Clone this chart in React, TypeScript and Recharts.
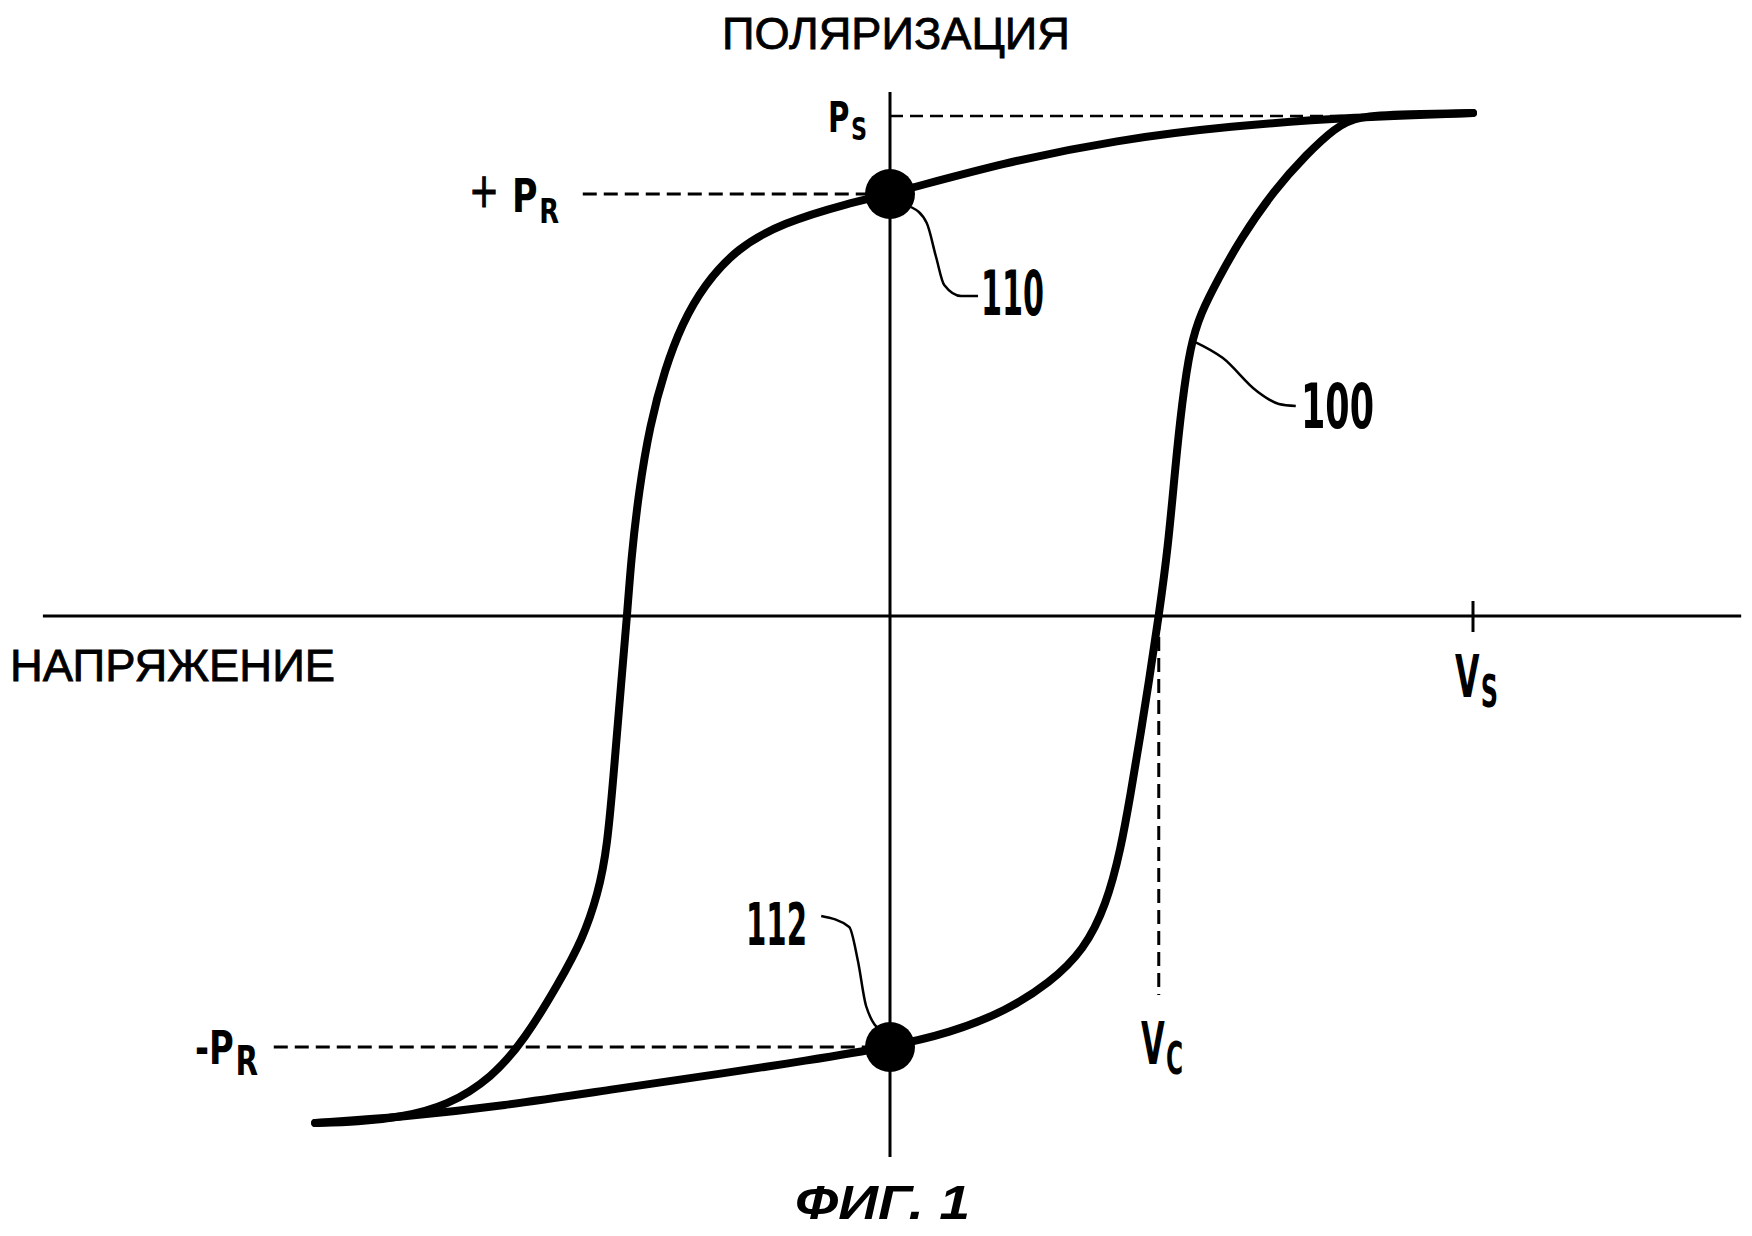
import React from 'react';
import { LineChart, Line, XAxis, YAxis, ReferenceLine, ReferenceDot } from 'recharts';

// ---- hysteresis loop 100 (V in units where Vs = 10, P in units where Ps = 10) ----
const upperV = [-9.86, -9.13, -8.37, -7.6, -6.83, -6.26, -5.68, -5.27, -5.01, -4.85, -4.72, -4.61, -4.51, -4.44, -4.31, -4.12, -3.86, -3.57, -3.19, -2.62, -1.85, -0.7, 0, 1.99, 3.89, 5.81, 8.01, 10];
const upperP = [-10.14, -10.12, -10.02, -9.8, -9.24, -8.46, -7.34, -6.46, -5.56, -4.66, -2.88, -1.32, 0, 1.14, 2.48, 3.82, 4.94, 5.84, 6.62, 7.36, 7.86, 8.26, 8.44, 9.08, 9.52, 9.8, 9.98, 10.06];

const lowerV = [-9.86, -8.37, -6.64, -4.72, -2.81, -1.48, 0, 1.03, 1.99, 2.74, 3.33, 3.71, 3.96, 4.13, 4.29, 4.44, 4.61, 4.77, 4.89, 5.01, 5.15, 5.33, 5.63, 6.0, 6.59, 7.15, 7.63, 8.01, 8.88, 10];
const lowerP = [-10.14, -10.02, -9.8, -9.46, -9.14, -8.9, -8.62, -8.34, -7.9, -7.34, -6.68, -5.78, -4.66, -3.54, -2.42, -1.32, 0, 1.38, 2.94, 4.28, 5.4, 6.06, 6.74, 7.52, 8.52, 9.24, 9.76, 10.0, 10.04, 10.06];

// ---- characteristic values ----
const Ps = 10;
const PrPlus = 8.44;
const PrMinus = -8.62;
const Vs = 10;
const Vc = 4.61;

// ---- leader lines to reference numerals ----
const leader110V = [0.36, 0.63, 0.79, 0.93, 1.22, 1.51];
const leader110P = [8.18, 7.86, 7.18, 6.62, 6.4, 6.4];
const leader100V = [5.2, 5.71, 6.29, 6.67, 6.96];
const leader100P = [5.5, 5.16, 4.5, 4.24, 4.2];
const leader112V = [-1.18, -0.7, -0.55, -0.41, -0.12];
const leader112P = [-6.0, -6.22, -6.9, -7.8, -8.34];

const zip = (vs: number[], ps: number[]) => vs.map((v, i) => ({ v, p: ps[i] }));

const upperData = zip(upperV, upperP);
const lowerData = zip(lowerV, lowerP);
const l110 = zip(leader110V, leader110P);
const l100 = zip(leader100V, leader100P);
const l112 = zip(leader112V, leader112P);

const SANS = "'Liberation Sans', Arial, Helvetica, sans-serif";
const COND = "'Liberation Sans Narrow', 'DejaVu Sans Condensed', 'Liberation Sans', Arial, sans-serif";

type Ann = {
  text: string;
  sub?: string;
  subSize?: number;
  subDy?: number;
  v: number;
  p: number;
  size: number;
  width: number;
  weight?: number | string;
  italic?: boolean;
  family?: string;
  stroke?: number;
};

const annotations: Ann[] = [
  { text: 'ПОЛЯРИЗАЦИЯ', v: -2.882, p: 11.34, size: 45, width: 348, family: SANS, stroke: 0.8 },
  { text: 'НАПРЯЖЕНИЕ', v: -15.094, p: -1.3, size: 45, width: 325, family: SANS, stroke: 0.8 },
  { text: 'ФИГ. 1', v: -1.63, p: -12.06, size: 48, width: 175, family: SANS, weight: 700, italic: true },
  { text: 'P', sub: 'S', subSize: 32, subDy: 8, v: -1.063, p: 9.68, size: 42, width: 39, family: COND, weight: 700 },
  { text: '+', v: -7.221, p: 8.18, size: 48, width: 30, family: COND, weight: 400, stroke: 1 },
  { text: 'P', sub: 'R', subSize: 34, subDy: 11, v: -6.484, p: 8.08, size: 46, width: 47, family: COND, weight: 700 },
  { text: '-P', sub: 'R', subSize: 40, subDy: 11, v: -11.921, p: -8.96, size: 46, width: 63, family: COND, weight: 700 },
  { text: 'V', sub: 'S', subSize: 44, subDy: 10, v: 9.691, p: -1.62, size: 58, width: 43, family: COND, weight: 700 },
  { text: 'V', sub: 'C', subSize: 44, subDy: 10, v: 4.305, p: -8.96, size: 58, width: 42, family: COND, weight: 700 },
  { text: '110', v: 1.561, p: 6.02, size: 62, width: 63, family: COND, weight: 700 },
  { text: '100', v: 7.05, p: 3.76, size: 62, width: 73, family: COND, weight: 700 },
  { text: '112', v: -2.47, p: -6.58, size: 58, width: 61, family: COND, weight: 700 },
];

const W = 1752;
const H = 1236;
const X_DOMAIN: [number, number] = [-15.2659, 14.7856];
const Y_DOMAIN: [number, number] = [-12.4, 12.32];

const AXIS_LEFT = -14.53;
const AXIS_RIGHT = 14.6;
const AXIS_TOP = 10.48;
const AXIS_BOTTOM = -10.82;

const makeTextShape = (a: Ann) => (props: any) => (
  <text
    x={props.cx}
    y={props.cy}
    fontSize={a.size}
    fontFamily={a.family}
    fontWeight={a.weight ?? 400}
    fontStyle={a.italic ? 'italic' : 'normal'}
    textLength={a.width}
    lengthAdjust="spacingAndGlyphs"
    fill="#000"
    stroke={a.stroke ? '#000' : 'none'}
    strokeWidth={a.stroke ?? 0}
  >
    {a.text}
    {a.sub ? (
      <tspan fontSize={a.subSize} dy={a.subDy} dx={2}>
        {a.sub}
      </tspan>
    ) : null}
  </text>
);

export default function App() {
  return (
    <div style={{ position: 'absolute', left: 0, top: 0, width: W, height: H, background: '#fff' }}>
      <LineChart width={W} height={H} margin={{ top: 0, right: 0, bottom: 0, left: 0 }}>
        <XAxis type="number" dataKey="v" domain={X_DOMAIN} allowDataOverflow hide />
        <YAxis type="number" dataKey="p" domain={Y_DOMAIN} allowDataOverflow hide width={0} />

        {/* axes */}
        <ReferenceLine segment={[{ x: AXIS_LEFT, y: 0 }, { x: AXIS_RIGHT, y: 0 }]} stroke="#000" strokeWidth={3} ifOverflow="visible" />
        <ReferenceLine segment={[{ x: 0, y: AXIS_TOP }, { x: 0, y: AXIS_BOTTOM }]} stroke="#000" strokeWidth={3} ifOverflow="visible" />
        <ReferenceLine segment={[{ x: Vs, y: 0.3 }, { x: Vs, y: -0.32 }]} stroke="#000" strokeWidth={3} ifOverflow="visible" />

        {/* dashed reference lines */}
        <ReferenceLine segment={[{ x: 0, y: Ps }, { x: 8.01, y: Ps }]} stroke="#000" strokeWidth={2.5} strokeDasharray="13 7" ifOverflow="visible" />
        <ReferenceLine segment={[{ x: -5.27, y: PrPlus }, { x: 0, y: PrPlus }]} stroke="#000" strokeWidth={3} strokeDasharray="14 7" ifOverflow="visible" />
        <ReferenceLine segment={[{ x: -10.57, y: PrMinus }, { x: 0, y: PrMinus }]} stroke="#000" strokeWidth={3} strokeDasharray="14 7" ifOverflow="visible" />
        <ReferenceLine segment={[{ x: Vc, y: 0 }, { x: Vc, y: -7.58 }]} stroke="#000" strokeWidth={3} strokeDasharray="14 7" ifOverflow="visible" />

        {/* leader lines */}
        <Line data={l110} dataKey="p" type="monotone" stroke="#000" strokeWidth={2.5} dot={false} activeDot={false} isAnimationActive={false} />
        <Line data={l100} dataKey="p" type="monotone" stroke="#000" strokeWidth={2.5} dot={false} activeDot={false} isAnimationActive={false} />
        <Line data={l112} dataKey="p" type="monotone" stroke="#000" strokeWidth={2.5} dot={false} activeDot={false} isAnimationActive={false} />

        {/* loop */}
        <Line data={upperData} dataKey="p" type="basis" stroke="#000" strokeWidth={8} strokeLinecap="round" dot={false} activeDot={false} isAnimationActive={false} />
        <Line data={lowerData} dataKey="p" type="basis" stroke="#000" strokeWidth={8} strokeLinecap="round" dot={false} activeDot={false} isAnimationActive={false} />

        {/* remanent polarization points 110 and 112 */}
        <ReferenceDot x={0} y={PrPlus} r={25} fill="#000" stroke="none" ifOverflow="visible" />
        <ReferenceDot x={0} y={PrMinus} r={25} fill="#000" stroke="none" ifOverflow="visible" />

        {annotations.map((a, i) => (
          <ReferenceDot key={i} x={a.v} y={a.p} r={1} ifOverflow="visible" shape={makeTextShape(a)} />
        ))}
      </LineChart>
    </div>
  );
}
